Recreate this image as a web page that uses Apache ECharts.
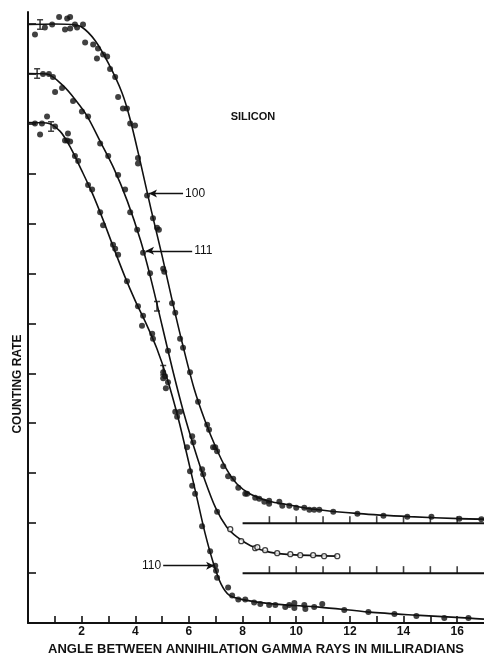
<!DOCTYPE html>
<html>
<head>
<meta charset="utf-8">
<script src="https://cdn.jsdelivr.net/npm/echarts@6/dist/echarts.min.js"></script>
<style>
  html, body { margin: 0; padding: 0; background: #fff; }
  #chart { width: 484px; height: 661px; }
</style>
</head>
<body>
<div id="chart"></div>
<script>
// axis ticks
const xTicks = [1, 2, 3, 4, 5, 6, 7, 8, 9, 10, 11, 12, 13, 14, 15, 16];
const xLabels = [2, 4, 6, 8, 10, 12, 14, 16];
const yTicks = [1, 2, 3, 4, 5, 6, 7, 8, 9, 10, 11, 12];

// shifted baselines for the 100 and 111 curves
const baseLevels = [2, 1];
const baseStart = 8;
const baseEnd = 17;
const baseTicks = [9, 10, 11, 12, 13, 14, 15, 16];

// fitted curves [angle, counting rate]
const fit100 = [[0, 11.98], [1.0, 11.99], [1.6, 11.98], [2.0, 11.93], [2.5, 11.66], [3.0, 11.2], [3.5, 10.62],
  [3.8, 10.1], [4.2, 9.2], [4.6, 8.25], [5.0, 7.35], [5.4, 6.4], [5.8, 5.5], [6.2, 4.68], [6.6, 4.05],
  [7.0, 3.52], [7.4, 3.08], [7.8, 2.78], [8.3, 2.58], [9.0, 2.44], [9.7, 2.37], [10.5, 2.29],
  [12.35, 2.19], [14.22, 2.13], [16.08, 2.09], [17, 2.08]];
const fit111 = [[0, 11.0], [0.7, 10.99], [1.3, 10.76], [1.8, 10.45], [2.2, 10.15], [2.7, 9.63], [3.2, 9.1],
  [3.7, 8.45], [4.2, 7.65], [4.6, 6.85], [5.0, 5.95], [5.4, 5.05], [5.8, 4.22], [6.2, 3.5], [6.6, 2.85],
  [7.0, 2.3], [7.4, 1.93], [7.8, 1.72], [8.3, 1.55], [9.0, 1.42], [9.8, 1.37], [11.53, 1.34]];
const fit110 = [[0, 10.02], [0.7, 10.01], [1.2, 9.84], [1.6, 9.5], [2.0, 9.06], [2.4, 8.6], [2.8, 8.07],
  [3.2, 7.5], [3.6, 6.95], [4.0, 6.45], [4.4, 6.0], [4.8, 5.5], [5.2, 4.87], [5.6, 4.1], [6.0, 3.2],
  [6.3, 2.5], [6.6, 1.8], [6.9, 1.22], [7.2, 0.78], [7.5, 0.56], [8.0, 0.47], [9.2, 0.38],
  [10.86, 0.32], [12.72, 0.22], [14.44, 0.16], [16.46, 0.10], [17, 0.08]];

// measured points
const dots100 = [[0.26, 11.78], [0.63, 11.92], [0.9, 11.98], [1.16, 12.13], [1.46, 12.10], [1.57, 12.13],
  [1.38, 11.88], [1.57, 11.9], [1.75, 11.98], [1.83, 11.92], [2.05, 11.98], [2.13, 11.62], [2.43, 11.58],
  [2.61, 11.50], [2.80, 11.38], [2.95, 11.34], [2.57, 11.30], [3.06, 11.09], [3.25, 10.93], [3.36, 10.53],
  [3.54, 10.30], [3.69, 10.30], [3.81, 10.00], [3.99, 9.96], [4.10, 9.31], [4.10, 9.2], [4.44, 8.56],
  [4.66, 8.10], [4.81, 7.91], [4.88, 7.87], [5.04, 7.09], [5.08, 7.03], [5.37, 6.40], [5.49, 6.21],
  [5.67, 5.69], [5.78, 5.51], [6.04, 5.02], [6.34, 4.43], [6.68, 3.97], [6.75, 3.87], [6.90, 3.52],
  [6.98, 3.52], [7.05, 3.44], [7.28, 3.14], [7.46, 2.94], [7.65, 2.89], [7.84, 2.71], [8.10, 2.59],
  [8.17, 2.59], [8.47, 2.51], [8.62, 2.49], [8.81, 2.43], [8.99, 2.45], [8.99, 2.39], [9.37, 2.43],
  [9.48, 2.35], [9.74, 2.35], [10.0, 2.31], [10.30, 2.31], [10.49, 2.27], [10.67, 2.27], [10.86, 2.27],
  [11.38, 2.23], [12.28, 2.19], [13.25, 2.15], [14.14, 2.13], [15.04, 2.13], [16.08, 2.09], [16.90, 2.08]];
const dots111 = [[0.56, 10.99], [0.78, 10.99], [0.93, 10.93], [1.01, 10.63], [1.27, 10.71], [1.68, 10.45],
  [2.01, 10.24], [2.24, 10.14], [2.69, 9.60], [2.99, 9.35], [3.36, 8.97], [3.62, 8.68], [3.81, 8.22],
  [4.07, 7.87], [4.29, 7.41], [4.55, 7.0], [5.22, 5.45], [6.12, 3.74], [6.16, 3.62], [6.49, 3.08],
  [6.53, 2.98], [7.05, 2.23]];
const dots111Open = [[7.54, 1.88], [7.95, 1.64], [8.47, 1.50], [8.55, 1.52], [8.84, 1.46], [9.29, 1.40],
  [9.78, 1.38], [10.15, 1.36], [10.63, 1.36], [11.04, 1.34], [11.53, 1.34]];
const dots110 = [[0.26, 10.0], [0.45, 9.78], [0.52, 10.0], [0.71, 10.14], [1.01, 9.94], [1.38, 9.66],
  [1.49, 9.80], [1.57, 9.64], [1.46, 9.66], [1.75, 9.35], [1.87, 9.25], [2.24, 8.77], [2.39, 8.68],
  [2.69, 8.22], [2.80, 7.96], [3.17, 7.57], [3.25, 7.49], [3.36, 7.37], [3.69, 6.84], [4.10, 6.34],
  [4.29, 6.15], [4.25, 5.95], [4.63, 5.79], [4.66, 5.69], [5.04, 5.02], [5.11, 4.94], [5.04, 4.90],
  [5.22, 4.82], [5.14, 4.70], [5.49, 4.23], [5.67, 4.23], [5.56, 4.13], [5.93, 3.52], [6.04, 3.04],
  [6.12, 2.75], [6.23, 2.59], [6.49, 1.94], [6.79, 1.44], [6.98, 1.15], [7.01, 1.05], [7.05, 0.91],
  [7.46, 0.71], [7.61, 0.55], [7.84, 0.47], [8.10, 0.47], [8.43, 0.41], [8.66, 0.38], [8.99, 0.36],
  [9.22, 0.36], [9.59, 0.32], [9.74, 0.36], [9.93, 0.40], [9.93, 0.30], [10.30, 0.36], [10.34, 0.28],
  [10.67, 0.32], [10.97, 0.38], [11.79, 0.26], [12.69, 0.22], [13.66, 0.18], [14.48, 0.14],
  [15.52, 0.10], [16.42, 0.10]];
const errBars = [[0.45, 11.98], [0.34, 11.0], [0.86, 9.94], [4.81, 6.34], [5.04, 5.06]];

// curve labels: [text, from, to]
const arrows = [
  ['100', [5.78, 8.60], [4.51, 8.60]],
  ['111', [6.12, 7.45], [4.40, 7.45]],
  ['110', [5.04, 1.15], [6.94, 1.15]]
];

const ink = '#111';
const chart = echarts.init(document.getElementById('chart'));

const curve = (data, arrow) => ({
  type: 'line',
  data: data,
  smooth: 0.3,
  symbol: 'none',
  lineStyle: { color: ink, width: 1.6 },
  z: 3,
  markLine: {
    silent: true,
    symbol: ['none', 'arrow'],
    symbolSize: [6, 8],
    lineStyle: { color: ink, width: 1.4, type: 'solid' },
    label: {
      show: true, position: 'start', distance: 2,
      formatter: arrow[0], color: ink, fontSize: 12, fontFamily: 'Liberation Sans'
    },
    data: [[{ coord: arrow[1] }, { coord: arrow[2] }]]
  }
});

const dots = (data, open) => ({
  type: 'scatter',
  data: data,
  symbol: 'circle',
  symbolSize: open ? 5 : 6,
  itemStyle: open ? { color: '#fff', borderColor: ink, borderWidth: 1.3 } : { color: ink },
  z: 4
});

const series = [
  curve(fit100, arrows[0]),
  curve(fit111, arrows[1]),
  curve(fit110, arrows[2]),
  dots(dots100), dots(dots111), dots(dots111Open, true), dots(dots110),
  {
    type: 'scatter',
    data: errBars,
    symbol: 'path://M0,0h6v1.4h-2.2v7.2h2.2v1.4h-6v-1.4h2.2v-7.2h-2.2z',
    symbolSize: [6, 11],
    itemStyle: { color: ink },
    z: 5
  }
];

baseLevels.forEach(lv => {
  series.push({
    type: 'line',
    data: [[baseStart, lv], [baseEnd, lv]],
    symbol: 'none',
    lineStyle: { color: ink, width: 2 },
    z: 2
  });
  series.push({
    type: 'scatter',
    data: baseTicks.map(t => [t, lv]),
    symbol: 'rect',
    symbolSize: [1.6, 7],
    symbolOffset: [0, -3.5],
    itemStyle: { color: ink },
    z: 2
  });
});

chart.setOption({
  backgroundColor: '#fff',
  animation: false,
  grid: { left: 28, right: 0, top: 12, bottom: 30 },
  xAxis: {
    type: 'value',
    min: 0,
    max: 17,
    name: 'ANGLE BETWEEN ANNIHILATION GAMMA RAYS IN MILLIRADIANS',
    nameLocation: 'middle',
    nameGap: 15,
    nameTextStyle: { color: ink, fontSize: 13, fontWeight: 'bold', fontFamily: 'Liberation Sans' },
    axisLine: { lineStyle: { color: ink, width: 2 } },
    axisTick: { inside: true, length: 7, lineStyle: { color: ink, width: 1.6 }, customValues: xTicks },
    axisLabel: {
      customValues: xLabels, margin: 3, color: ink, fontSize: 12,
      fontWeight: 'bold', fontFamily: 'Liberation Sans'
    },
    splitLine: { show: false }
  },
  yAxis: {
    type: 'value',
    min: 0,
    max: 12.23,
    axisLine: { show: true, lineStyle: { color: ink, width: 2 } },
    axisTick: { show: true, inside: true, length: 8, lineStyle: { color: ink, width: 1.6 }, customValues: yTicks },
    axisLabel: { show: false },
    splitLine: { show: false }
  },
  graphic: [
    {
      type: 'text', x: 253, y: 117,
      style: {
        text: 'SILICON', fill: ink, font: 'bold 11px "Liberation Sans"',
        align: 'center', verticalAlign: 'middle'
      }
    },
    {
      type: 'text', x: 18, y: 384, rotation: Math.PI / 2,
      style: {
        text: 'COUNTING RATE', fill: ink, font: 'bold 12px "Liberation Sans"',
        align: 'center', verticalAlign: 'middle'
      }
    }
  ],
  series: series
});
</script>
</body>
</html>
